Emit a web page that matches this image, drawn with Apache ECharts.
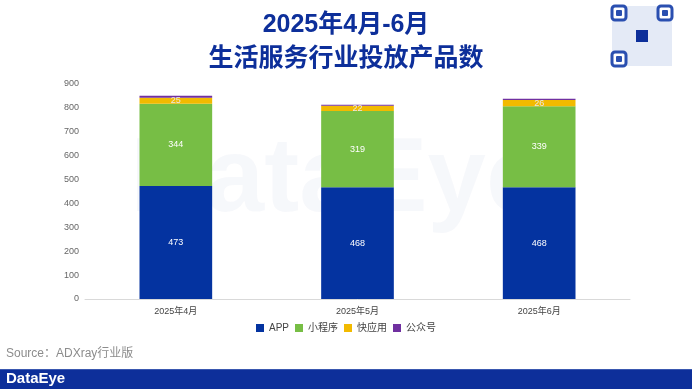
<!DOCTYPE html>
<html><head><meta charset="utf-8">
<script src="https://cdn.jsdelivr.net/npm/echarts@6/dist/echarts.min.js"></script>
<style>html,body{margin:0;padding:0;background:#fff}#c{width:692px;height:389px}</style>
</head><body><div id="c"></div>
<script>
const categories = ['2025年4月', '2025年5月', '2025年6月'];
const appValues = [473, 468, 468];
const miniValues = [344, 319, 339];
const quickValues = [25, 22, 26];
const officialValues = [9, 4, 5];
const seriesNames = ['APP', '小程序', '快应用', '公众号'];
const yTicks = [0, 100, 200, 300, 400, 500, 600, 700, 800, 900];

const colors = ['#0433A0', '#77BE45', '#F2BA00', '#7030A0'];
const chart = echarts.init(document.getElementById('c'));
const dataSets = [appValues, miniValues, quickValues, officialValues];
const series = dataSets.map((d, i) => ({
  name: seriesNames[i], type: 'bar', stack: 'total', data: d, barWidth: '40%',
  itemStyle: { color: colors[i] },
  label: { show: i < 3, position: 'inside', color: i === 2 ? '#e8e8e8' : '#ffffff', fontSize: 9, fontFamily: 'Liberation Sans' }
}));

// QR-like placeholder (finder squares)
const qr = [];
const qx = 612, qy = 6, qs = 60;
qr.push({ type: 'rect', shape: { x: qx, y: qy, width: qs, height: qs }, style: { fill: '#e4eaf6' } });
[[0, 0], [qs - 14, 0], [0, qs - 14]].forEach(([dx, dy]) => {
  qr.push({ type: 'rect', shape: { x: qx + dx, y: qy + dy, width: 14, height: 14, r: 3 }, style: { fill: '#fff', stroke: '#2a4fb0', lineWidth: 3 } });
  qr.push({ type: 'rect', shape: { x: qx + dx + 4, y: qy + dy + 4, width: 6, height: 6, r: 1 }, style: { fill: '#2a4fb0' } });
});
qr.push({ type: 'rect', shape: { x: qx + 24, y: qy + 24, width: 12, height: 12 }, style: { fill: '#0d2f9a' } });

chart.setOption({
  animation: false,
  textStyle: { fontFamily: 'Liberation Sans, Noto Sans CJK SC' },
  title: {
    text: '2025年4月-6月\n生活服务行业投放产品数', left: 'center', top: 3,
    textStyle: { color: '#0d2f9a', fontSize: 25, fontWeight: 'bold', lineHeight: 34, fontFamily: 'Liberation Sans, Noto Sans CJK SC' }
  },
  legend: {
    data: seriesNames, bottom: 51, left: 'center', icon: 'rect', itemWidth: 8, itemHeight: 8, itemGap: 6,
    textStyle: { fontSize: 10, color: '#444' }
  },
  grid: { left: 85, right: 62, top: 84, bottom: 90 },
  xAxis: {
    type: 'category', data: categories,
    axisLine: { lineStyle: { color: '#d9d9d9' } }, axisTick: { show: false },
    axisLabel: { fontSize: 9, color: '#444', margin: 8 }
  },
  yAxis: {
    type: 'value', min: 0, max: 900, interval: 100,
    axisLabel: { fontSize: 9, color: '#666', margin: 6, formatter: v => yTicks.includes(v) ? String(v) : '' },
    splitLine: { show: false }, axisLine: { show: false }, axisTick: { show: false }
  },
  graphic: [
    { type: 'text', left: 130, top: 130, z: -10, silent: true,
      style: { text: 'DataEye', fontSize: 105, fontWeight: 'bold', fill: 'rgba(13,47,154,0.035)', fontFamily: 'Liberation Sans' } },
    ...qr,
    { type: 'text', left: 6, top: 348, style: { text: 'Source：ADXray行业版', fontSize: 12, fill: '#8c8c8c', fontFamily: 'Liberation Sans, Noto Sans CJK SC' } },
    { type: 'rect', shape: { x: 0, y: 370, width: 692, height: 19 }, style: { fill: '#0d2f9a' } },
    { type: 'rect', shape: { x: 0, y: 369, width: 692, height: 1 }, style: { fill: '#3a58b0' } },
    { type: 'text', left: 6, top: 371, style: { text: 'DataEye', fontSize: 15, fontWeight: 'bold', fill: '#ffffff', fontFamily: 'Liberation Sans' } }
  ],
  series
});
</script></body></html>
